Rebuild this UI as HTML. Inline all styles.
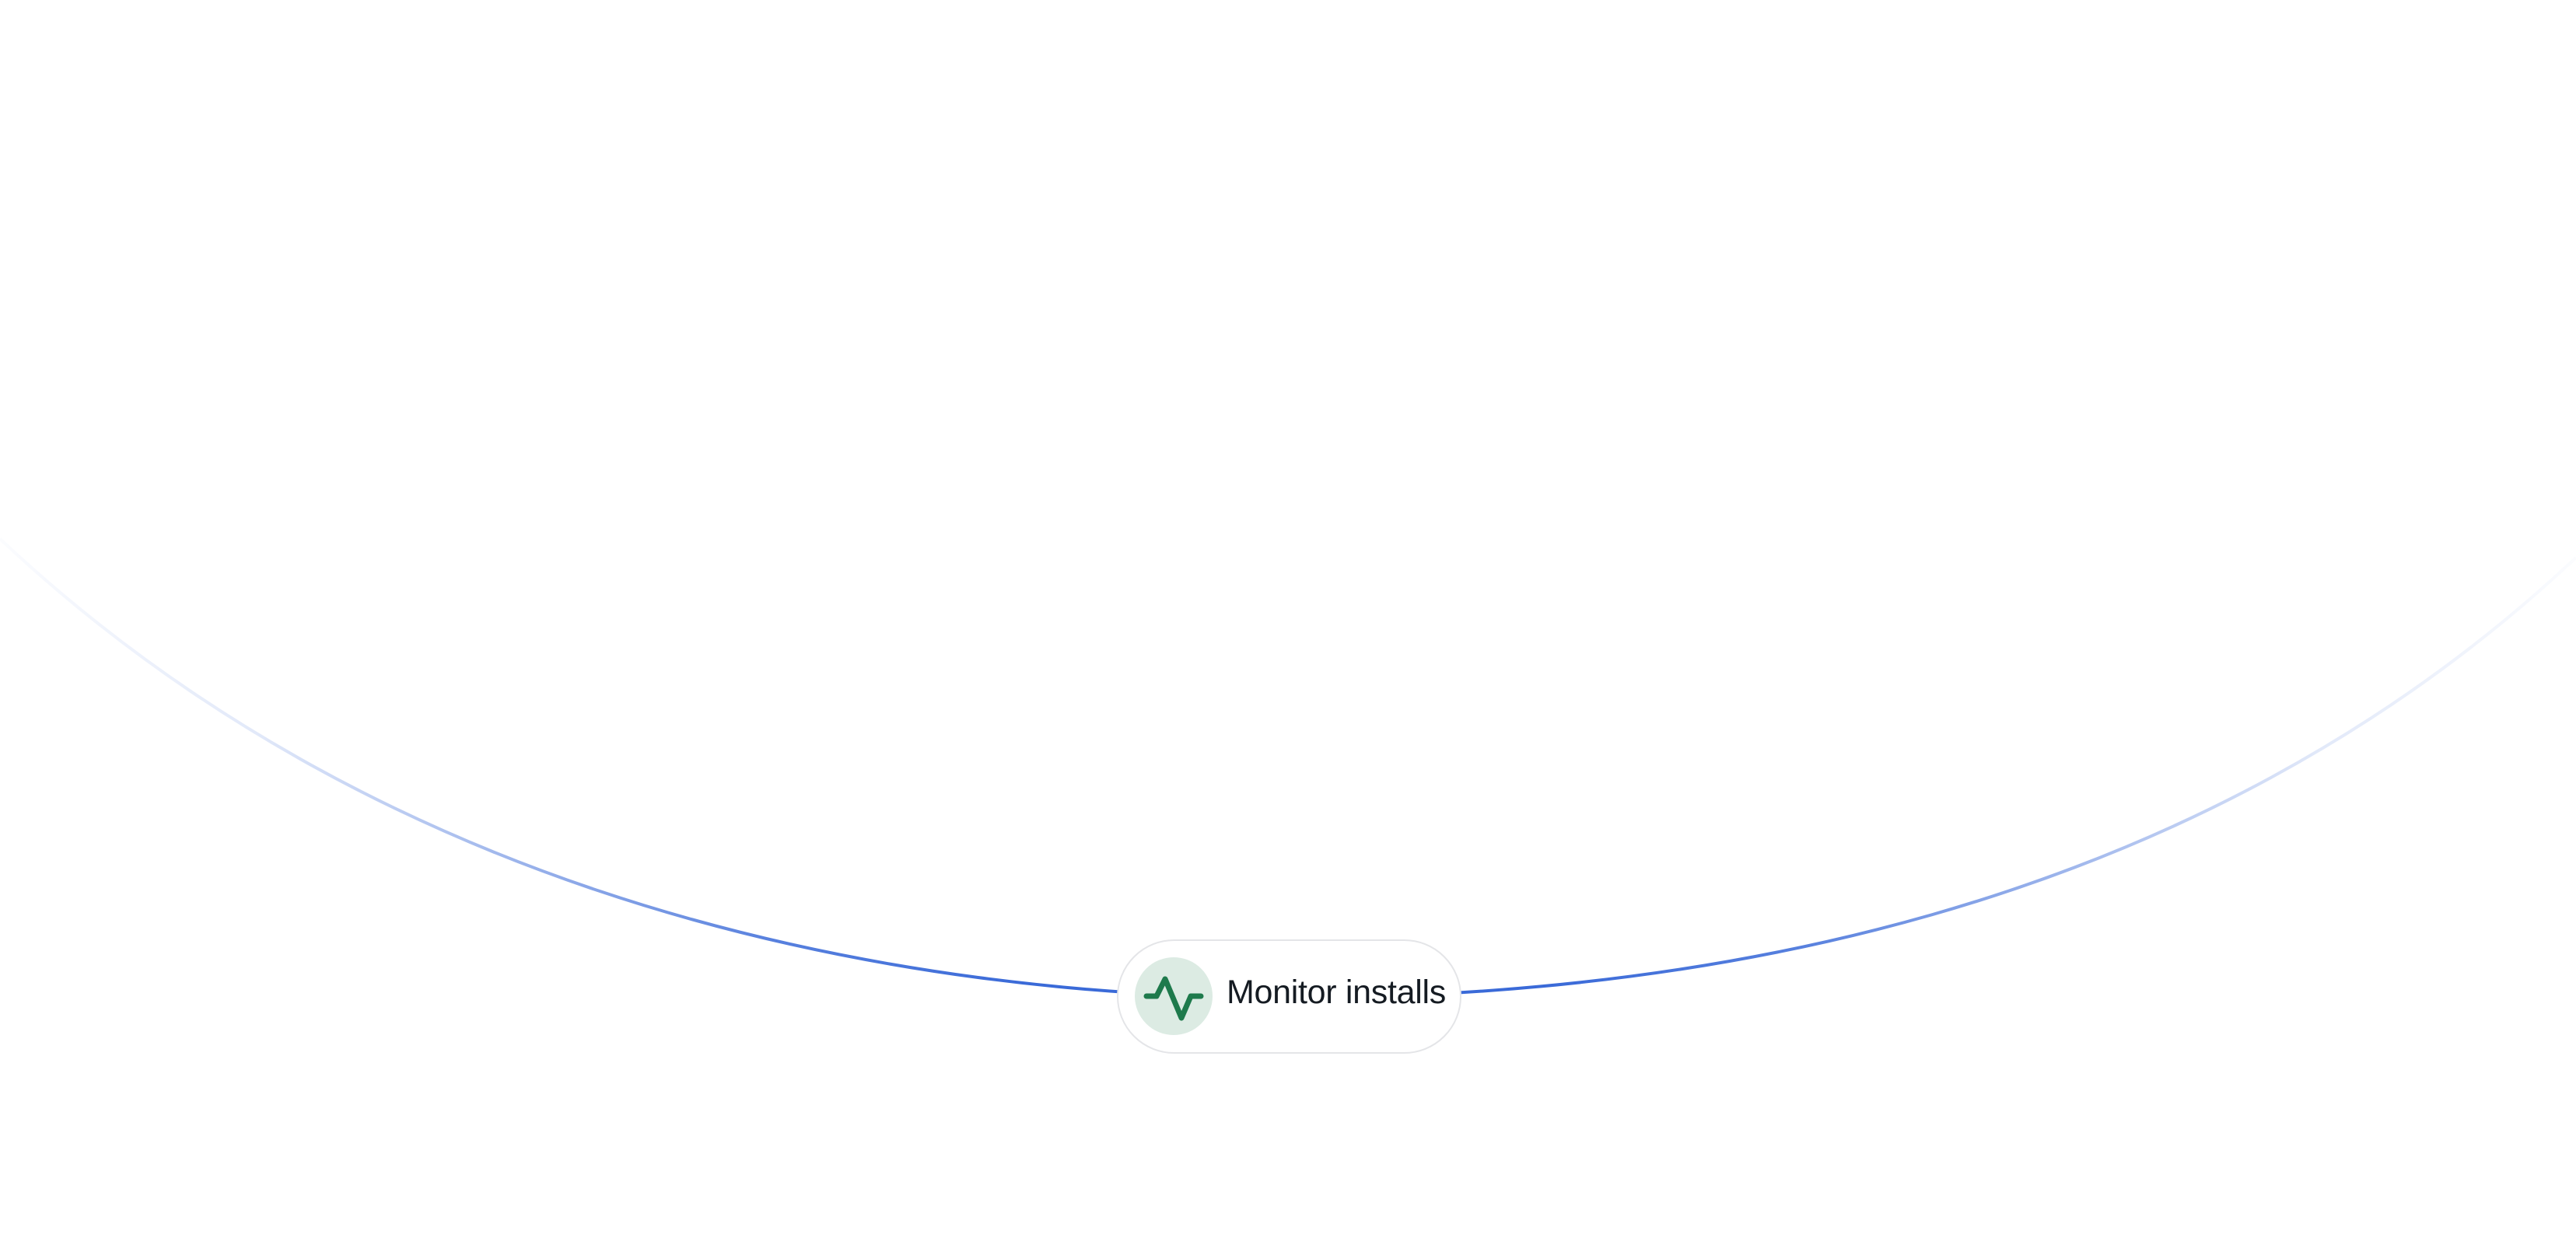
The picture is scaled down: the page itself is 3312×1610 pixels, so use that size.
<!DOCTYPE html>
<html><head><meta charset="utf-8"><style>
html,body{margin:0;padding:0;background:#fff;width:3312px;height:1610px;overflow:hidden}
.pill{position:absolute;left:1436px;top:1208px;width:443px;height:147px;border:2px solid #e4e5e8;border-radius:74px;background:#fff;box-sizing:border-box}
.ic{position:absolute;left:1459px;top:1231px;width:100px;height:100px;border-radius:50%;background:#dcebe3}
.t{position:absolute;left:1577px;top:1252px;font:43px "Liberation Sans",sans-serif;color:#151b22;white-space:nowrap;letter-spacing:-0.3px}
</style></head><body>
<svg width="3312" height="1610" style="position:absolute;left:0;top:0">
<defs><linearGradient id="g" gradientUnits="userSpaceOnUse" x1="0" y1="0" x2="3312" y2="0">
<stop offset="0" stop-color="#3a6ad8" stop-opacity="0.02"/>
<stop offset="0.1" stop-color="#3a6ad8" stop-opacity="0.15"/>
<stop offset="0.2" stop-color="#3a6ad8" stop-opacity="0.5"/>
<stop offset="0.3" stop-color="#3a6ad8" stop-opacity="0.85"/>
<stop offset="0.4" stop-color="#3a6ad8" stop-opacity="1"/>
<stop offset="0.6" stop-color="#3a6ad8" stop-opacity="1"/>
<stop offset="0.7" stop-color="#3a6ad8" stop-opacity="0.85"/>
<stop offset="0.8" stop-color="#3a6ad8" stop-opacity="0.5"/>
<stop offset="0.9" stop-color="#3a6ad8" stop-opacity="0.15"/>
<stop offset="1" stop-color="#3a6ad8" stop-opacity="0.02"/>
</linearGradient></defs>
<path d="M0,693 C500,1163 1156,1283 1656,1283 C2156,1283 2812,1187 3312,717" fill="none" stroke="url(#g)" stroke-width="4"/>
</svg>
<div class="pill"></div>
<div class="ic"><svg width="100" height="100" viewBox="0 0 100 100"><polyline points="15,50 28,50 39,28 60,78 72,50 85,50" fill="none" stroke="#1e7a4c" stroke-width="7" stroke-linecap="round" stroke-linejoin="round"/></svg></div>
<div class="t">Monitor installs</div>
</body></html>
